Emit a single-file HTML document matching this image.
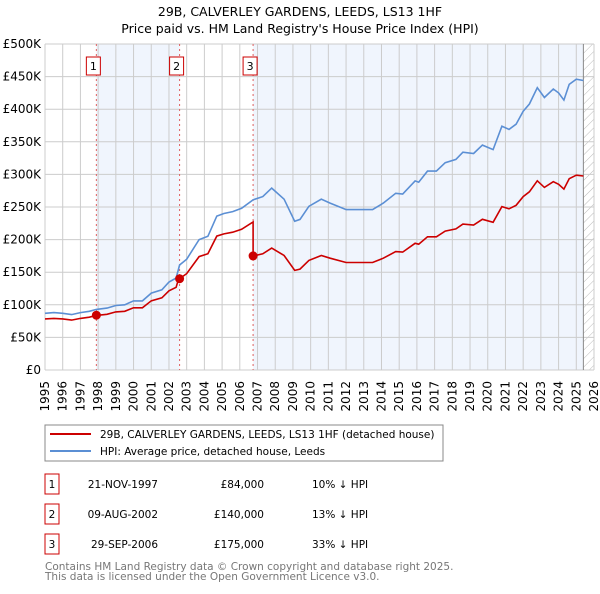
<!DOCTYPE html>
<html><head><meta charset="utf-8"><style>
body{margin:0;background:#fff;font-family:"DejaVu Sans","Liberation Sans",sans-serif;}
svg text{font-family:"DejaVu Sans","Liberation Sans",sans-serif;}
</style></head><body>
<svg id="chart" width="600" height="590" viewBox="0 0 600 590">
<defs><pattern id="hatch" width="6" height="6" patternUnits="userSpaceOnUse" patternTransform="rotate(45)"><line x1="0" y1="0" x2="0" y2="6" stroke="#bbb" stroke-width="1"/></pattern></defs>
<text x="300" y="16" text-anchor="middle" font-size="12.5">29B, CALVERLEY GARDENS, LEEDS, LS13 1HF</text>
<text x="300" y="33" text-anchor="middle" font-size="12.5">Price paid vs. HM Land Registry's House Price Index (HPI)</text>
<g id="plot"></g>
<rect x="45" y="425" width="398" height="36" fill="#fff" stroke="#888"/>
<line x1="50" y1="434" x2="91" y2="434" stroke="#cc0000" stroke-width="2"/>
<text x="100" y="438" font-size="10.5">29B, CALVERLEY GARDENS, LEEDS, LS13 1HF (detached house)</text>
<line x1="50" y1="451" x2="91" y2="451" stroke="#5b8fd4" stroke-width="2"/>
<text x="100" y="455" font-size="10.5">HPI: Average price, detached house, Leeds</text>
<g id="table"></g>
<text x="45" y="570" font-size="10.5" fill="#777">Contains HM Land Registry data © Crown copyright and database right 2025.</text>
<text x="45" y="580" font-size="10.5" fill="#777">This data is licensed under the Open Government Licence v3.0.</text>
</svg>
<script>
const hpiYears=[1995,1995.5,1996,1996.5,1997,1997.5,1997.9,1998.5,1999,1999.5,2000,2000.5,2001,2001.6,2002,2002.4,2002.6,2003,2003.7,2004.2,2004.7,2005.1,2005.6,2006.1,2006.75,2007.3,2007.8,2008.5,2009.1,2009.4,2009.9,2010.6,2011.1,2012.0,2013.0,2013.5,2014.1,2014.8,2015.2,2015.9,2016.1,2016.6,2017.1,2017.6,2018.2,2018.6,2019.2,2019.7,2020.3,2020.8,2021.2,2021.6,2022.0,2022.35,2022.8,2023.2,2023.7,2024.0,2024.3,2024.6,2025.0,2025.4];
const hpiValues=[87,88,87,85,88,90,93,95,99,100,106,106,118,123,135,141,161,170,200,205,236,240,243,248,261,266,279,262,228,231,251,262,256,246,246,246,256,271,270,290,288,305,305,318,323,334,332,345,338,374,369,377,397,408,433,418,431,425,414,438,446,444];
const saleYears=[1997.9,2002.6,2006.75];
const salePrices=[84,140,175];
const salePcts=[0.10,0.13,0.33];
const saleDates=['21-NOV-1997','09-AUG-2002','29-SEP-2006'];
const salePriceLabels=['£84,000','£140,000','£175,000'];
const yTicks=[0,50,100,150,200,250,300,350,400,450,500];
const yTickLabels=['£0','£50K','£100K','£150K','£200K','£250K','£300K','£350K','£400K','£450K','£500K'];
const xTicks=[];for(let y=1995;y<=2026;y++)xTicks.push(y);
const dataEnd=2025.4;

const NS='http://www.w3.org/2000/svg';
const L=45,R=594,T=44,B=370;
const xS=y=>L+(y-1995)/(2026-1995)*(R-L);
const yS=v=>B-v/500*(B-T);
const plot=document.getElementById('plot');
function mk(tag,a,parent){const e=document.createElementNS(NS,tag);for(const k in a)e.setAttribute(k,a[k]);(parent||plot).appendChild(e);return e;}

let e;
e=mk('rect',{x:xS(saleYears[0]),y:T,width:xS(saleYears[1])-xS(saleYears[0]),height:B-T,fill:'#f0f5fd'});


e=mk('rect',{x:xS(saleYears[2]),y:T,width:xS(dataEnd)-xS(saleYears[2]),height:B-T,fill:'#f0f5fd'});


e=mk('rect',{x:xS(dataEnd),y:T,width:R-xS(dataEnd),height:B-T,fill:'url(#hatch)'});


xTicks.forEach(t=>{
 e=mk('line',{x1:xS(t),x2:xS(t),y1:T,y2:B,stroke:'#ccc','stroke-width':1});
 
 
 e=mk('text',{x:0,y:0,'font-size':12,'text-anchor':'end',transform:`translate(${xS(t)+4},${B+11}) rotate(-90)`});
 e.textContent=t;
 
 
});
yTicks.forEach((t,i)=>{
 e=mk('line',{x1:L,x2:R,y1:yS(t),y2:yS(t),stroke:'#ccc','stroke-width':1});
 
 
 e=mk('text',{x:L-4,y:yS(t)+4,'font-size':12,'text-anchor':'end'});
 e.textContent=yTickLabels[i];
 
 
});
e=mk('line',{x1:xS(dataEnd),x2:xS(dataEnd),y1:T,y2:B,stroke:'#888','stroke-width':1});



saleYears.forEach((s,i)=>{
 e=mk('line',{x1:xS(s),x2:xS(s),y1:T,y2:B,stroke:'#e06060','stroke-width':1,'stroke-dasharray':'2,3'});
 
 
 e=mk('rect',{x:xS(s)-10,y:57,width:14,height:18,fill:'#fff',stroke:'#cc0000'});
 
 
 e=mk('text',{x:xS(s)-3,y:70,'font-size':11,'text-anchor':'middle'});
 e.textContent=i+1;
 
 
});

function ratioAt(y){let k=0;for(let i=0;i<saleYears.length;i++)if(y>=saleYears[i])k=i;return 1-salePcts[k];}
let hp='',rp='';
hpiYears.forEach((y,i)=>{
 hp+=(i?'L':'M')+xS(y).toFixed(1)+','+yS(hpiValues[i]).toFixed(1);
 for(let k=1;k<saleYears.length;k++){
  if(i>0&&hpiYears[i-1]<saleYears[k]&&y>=saleYears[k]){
   rp+='L'+xS(y).toFixed(1)+','+yS(hpiValues[i]*(1-salePcts[k-1])).toFixed(1);
  }
 }
 rp+=(i?'L':'M')+xS(y).toFixed(1)+','+yS(hpiValues[i]*ratioAt(y)).toFixed(1);
});
e=mk('path',{d:hp,fill:'none',stroke:'#5b8fd4','stroke-width':1.6});


e=mk('path',{d:rp,fill:'none',stroke:'#cc0000','stroke-width':1.6});


saleYears.forEach((s,i)=>{
 e=mk('circle',{cx:xS(s),cy:yS(salePrices[i]),r:4.5,fill:'#cc0000'});
 
 
});

const tbl=document.getElementById('table');
saleYears.forEach((s,i)=>{
 const cy=484+i*30;
 e=mk('rect',{x:45,y:cy-10,width:14,height:20,fill:'#fff',stroke:'#cc0000'},tbl);
 
 
 e=mk('text',{x:52,y:cy+4,'font-size':10.5,'text-anchor':'middle'},tbl);
 e.textContent=i+1;
 
 
 e=mk('text',{x:158,y:cy+4,'font-size':10.5,'text-anchor':'end'},tbl);
 e.textContent=saleDates[i];
 
 
 e=mk('text',{x:264,y:cy+4,'font-size':10.5,'text-anchor':'end'},tbl);
 e.textContent=salePriceLabels[i];
 
 
 e=mk('text',{x:312,y:cy+4,'font-size':10.5},tbl);
 e.textContent=Math.round(salePcts[i]*100)+'% ↓ HPI';
 
 
});
</script>
</body></html>
